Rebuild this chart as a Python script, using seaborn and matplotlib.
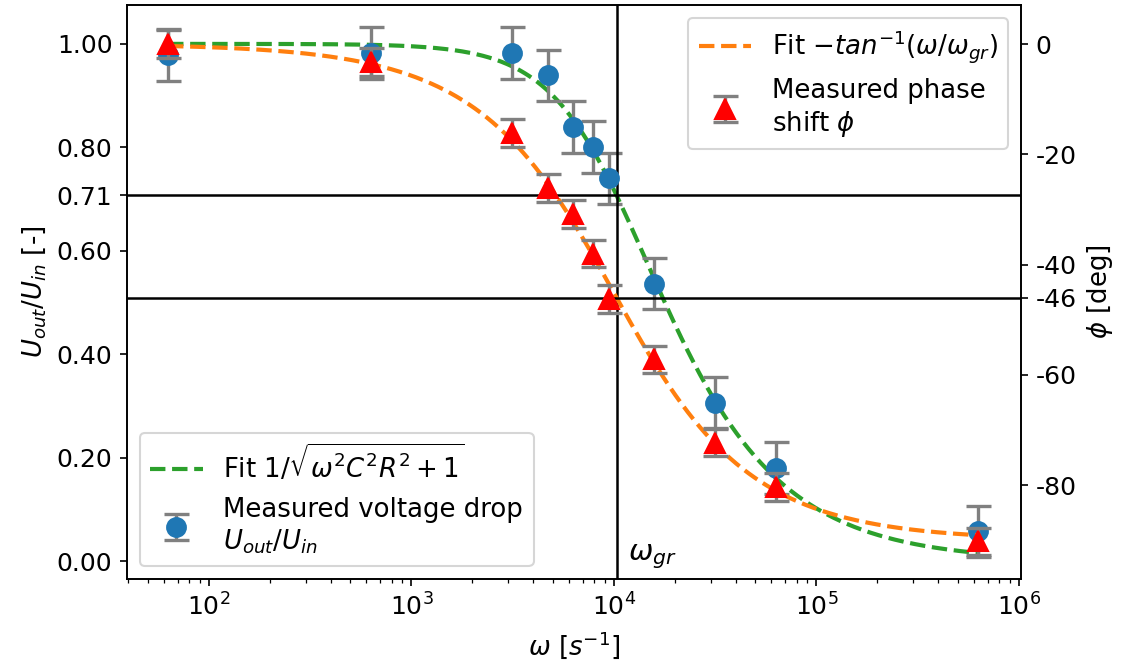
import numpy as np
import matplotlib
matplotlib.use("Agg")
import matplotlib.pyplot as plt
import seaborn as sns

# Measurement frequencies (Hz) -> angular frequency
freq_hz = np.array([10, 100, 500, 750, 1000, 1250, 1500, 2500, 5000, 10000, 100000])
omega = 2 * np.pi * freq_hz

# Measured voltage ratio U_out/U_in
u_ratio = [0.978, 0.982, 0.982, 0.939, 0.839, 0.800, 0.740, 0.537, 0.307, 0.180, 0.058]
u_err = [0.05] * 11

# Measured phase shift (deg)
phi_deg = [0.0, -3.3, -16.1, -26.1, -30.8, -38.0, -46.2, -57.2, -72.3, -80.3, -90.2]
phi_err = [2.5] * 11

# Fitted parameters
omega_gr_u = 1.031e4     # 1/(RC) from the voltage fit
omega_gr_phi = 9.95e3    # omega_gr from the phase fit
u_cut = 1 / np.sqrt(2)
phi_cut = -46

left_ticks = [0.0, 0.2, 0.4, 0.6, u_cut, 0.8, 1.0]
left_labels = ["0.00", "0.20", "0.40", "0.60", "0.71", "0.80", "1.00"]
right_ticks = [0, -20, -40, -46, -60, -80]
right_labels = ["0", "-20", "-40", "-46", "-60", "-80"]

sns.set_style("ticks", {"axes.edgecolor": "black", "xtick.color": "black",
                        "ytick.color": "black", "text.color": "black",
                        "axes.labelcolor": "black"})
plt.rcParams["font.size"] = 12

fig, ax = plt.subplots(figsize=(1129 / 150, 671 / 150), dpi=150)
fig.subplots_adjust(left=0.1125, right=0.9043, bottom=0.137, top=0.9925)
ax2 = ax.twinx()

# fit curves
w_fit = np.logspace(np.log10(omega[0]), np.log10(omega[-1]), 400)
u_fit = 1 / np.sqrt((w_fit / omega_gr_u) ** 2 + 1)
phi_fit = -np.degrees(np.arctan(w_fit / omega_gr_phi))

sns.lineplot(x=w_fit, y=u_fit, ax=ax, color="C2", linestyle="--", lw=2,
             label=r"Fit $1/\sqrt{\omega^2C^2R^2+1}$")
ax.errorbar(omega, u_ratio, yerr=u_err, fmt="o", color="C0", ms=9,
            ecolor="gray", elinewidth=1.6, capsize=6, capthick=1.6,
            label="Measured voltage drop\n$U_{out}/U_{in}$")

sns.lineplot(x=w_fit, y=phi_fit, ax=ax2, color="C1", linestyle="--", lw=2,
             label=r"Fit $-tan^{-1}(\omega/\omega_{gr})$")
ax2.errorbar(omega, phi_deg, yerr=phi_err, fmt="^", color="red", ms=10,
             ecolor="gray", elinewidth=1.6, capsize=6, capthick=1.6,
             label="Measured phase\nshift $\\phi$")

# guide lines at the cutoff
ax.axhline(u_cut, color="black", lw=1.2)
ax.axvline(omega_gr_u, color="black", lw=1.2)
ax2.axhline(phi_cut, color="black", lw=1.2)
ax.text(1.17e4, 0.01, r"$\omega_{gr}$", fontsize=14, va="center")

ax.set_xscale("log")
ax.set_xlim(39.4, 1.024e6)
ax.set_ylim(-0.034, 1.075)
ax2.set_ylim(-97.05, 7.07)

ax.set_yticks(left_ticks)
ax.set_yticklabels(left_labels)
ax2.set_yticks(right_ticks)
ax2.set_yticklabels(right_labels)

ax.set_xlabel(r"$\omega$ $[s^{-1}]$", fontsize=12.5)
ax.set_ylabel(r"$U_{out}/U_{in}$ [-]", fontsize=12.5)
ax2.set_ylabel(r"$\phi$ [deg]", fontsize=12.5)
ax.tick_params(labelsize=12)
ax2.tick_params(labelsize=12)

ax.legend(loc="lower left", fontsize=12.5)
ax2.legend(loc="upper right", fontsize=12.5)

fig.savefig("out.png", dpi=150)
